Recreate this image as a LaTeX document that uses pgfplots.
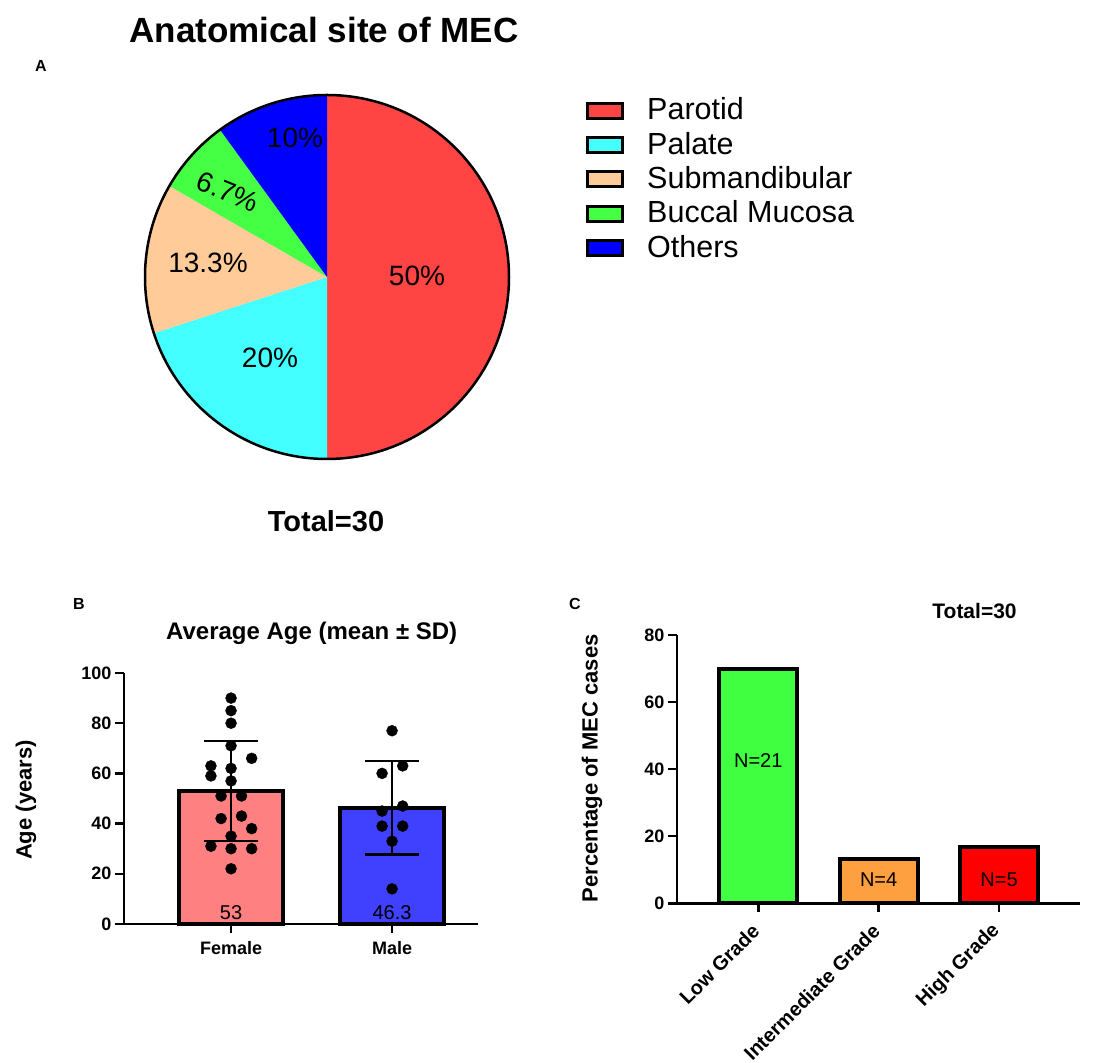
\documentclass[border=0pt]{standalone}
\usepackage{pgfplots}
\pgfplotsset{compat=1.18}
\usepackage{fontspec}
\setmainfont{Liberation Sans}
\definecolor{cParotid}{RGB}{255,68,68}
\definecolor{cPalate}{RGB}{68,255,255}
\definecolor{cSub}{RGB}{255,204,153}
\definecolor{cBuccal}{RGB}{68,255,68}
\definecolor{cOthers}{RGB}{0,0,255}
\definecolor{cFemale}{RGB}{255,128,128}
\definecolor{cMale}{RGB}{64,64,255}
\definecolor{cLow}{RGB}{64,255,64}
\definecolor{cInt}{RGB}{255,160,64}
\definecolor{cHigh}{RGB}{255,0,0}
\newcommand\fs[1]{\fontsize{#1}{#1}\selectfont}
\pgfplotstableread{
x y
0 90
0 85
0 80
0 71
0.128 66
-0.125 63
0 62
-0.125 59
0 57
-0.062 51
0.065 51
0.065 43
-0.062 42
0.128 38
0 35
-0.125 31
0 30
0.128 30
0 22
}\female
\pgfplotstableread{
x y
1 77
1.066 63
0.938 60
1.066 47
0.938 45
0.938 39
1.066 39
1 33
1 14
}\male
\begin{document}
\begin{tikzpicture}[x=1pt,y=1pt]
\useasboundingbox (0,0) rectangle (1096,1063);
% ---------- Panel A: pie ----------
\begin{axis}[hide axis, x=1pt, y=1pt, xmin=-200, xmax=200, ymin=-200, ymax=200,
  anchor=center, at={(327pt,786pt)}, clip=false]
% counts: Parotid 15, Palate 6, Submandibular 4, Buccal 2, Others 3 (of 30); 12 deg per case
\fill[cParotid] (axis cs:0,0) -- ++(90:182pt) arc[start angle=90, end angle={90-15*12}, radius=182pt] -- cycle;
\fill[cPalate] (axis cs:0,0) -- ++({90-15*12}:182pt) arc[start angle={90-15*12}, end angle={90-21*12}, radius=182pt] -- cycle;
\fill[cSub] (axis cs:0,0) -- ++({90-21*12}:182pt) arc[start angle={90-21*12}, end angle={90-25*12}, radius=182pt] -- cycle;
\fill[cBuccal] (axis cs:0,0) -- ++({90-25*12}:182pt) arc[start angle={90-25*12}, end angle={90-27*12}, radius=182pt] -- cycle;
\fill[cOthers] (axis cs:0,0) -- ++({90-27*12}:182pt) arc[start angle={90-27*12}, end angle={90-30*12}, radius=182pt] -- cycle;
\draw[line width=2.5pt] (axis cs:0,0) circle[radius=182pt];
\node[font=\fs{28}] at (axis cs:90,1) {50\%};
\node[font=\fs{28}] at (axis cs:-57,-81) {20\%};
\node[font=\fs{28}] at (axis cs:-119,14) {13.3\%};
\node[font=\fs{28}, rotate=-22] at (axis cs:-99,85) {6.7\%};
\node[font=\fs{28}] at (axis cs:-32,139) {10\%};
\end{axis}
\node[font=\fs{35}\bfseries, anchor=base] at (324,1020) {Anatomical site of MEC};
\node[font=\fs{16}\bfseries, anchor=base] at (41,991) {A};
\node[font=\fs{29}\bfseries, anchor=base] at (326,531.5) {Total=30};
% legend
\foreach \c/\t [count=\i from 0] in {cParotid/Parotid, cPalate/Palate, cSub/Submandibular, cBuccal/Buccal Mucosa, cOthers/Others}{
  \filldraw[fill=\c, draw=black, line width=3pt] (587,{952.3-34.3*\i-7.5}) rectangle (622,{952.3-34.3*\i+7.5});
  \node[font=\fs{30.5}, anchor=base west, inner sep=0pt] at (647,{943-34.3*\i}) {\t};
}
% ---------- Panel B ----------
\begin{axis}[at={(124pt,139pt)}, anchor=south west, x=161pt, y=2.51pt,
  xmin=-0.665, xmax=1.534, ymin=0, ymax=100, enlargelimits=false, clip=false,
  axis lines=left, axis line style={line width=2.5pt, -},
  xtick={0,1}, xticklabels={Female,Male}, ytick={0,20,...,100},
  tick align=outside, major tick length=9pt, tick style={line width=2.5pt, black},
  ticklabel style={font=\fs{18}\bfseries}, /pgf/number format/assume math mode=true,
  xticklabel shift=5pt]
\addplot[ybar, bar width=104pt, bar shift=0pt, fill=cFemale, draw=black, line width=3.5pt] coordinates {(0,53)};
\addplot[ybar, bar width=104pt, bar shift=0pt, fill=cMale, draw=black, line width=3.5pt] coordinates {(1,46.3)};
% error bars: mean +- SD (Female 53 +- 20, Male 46.3 +- 18.6)
\addplot[black, line width=2.5pt] coordinates {(0,33) (0,73)};
\addplot[black, line width=2.5pt] coordinates {(-0.168,73) (0.168,73)};
\addplot[black, line width=2.5pt] coordinates {(-0.168,33) (0.168,33)};
\addplot[black, line width=2.5pt] coordinates {(1,27.7) (1,64.9)};
\addplot[black, line width=2.5pt] coordinates {(0.832,64.9) (1.168,64.9)};
\addplot[black, line width=2.5pt] coordinates {(0.832,27.7) (1.168,27.7)};
\addplot[only marks, mark=*, mark size=5.5pt, black] table {\female};
\addplot[only marks, mark=*, mark size=5.5pt, black] table {\male};
\node[font=\fs{20}] at (axis cs:0,4.4) {53};
\node[font=\fs{20}] at (axis cs:1,4.4) {46.3};
\end{axis}
\node[font=\fs{16}\bfseries, anchor=base] at (79,453) {B};
\node[font=\fs{24}\bfseries, anchor=base] at (311.7,423.7) {Average Age (mean ± SD)};
\node[font=\fs{22}\bfseries, rotate=90] at (26,263) {Age (years)};
% ---------- Panel C ----------
\begin{axis}[at={(677pt,159.7pt)}, anchor=south west, x=120.4pt, y=3.354pt,
  xmin=-0.675, xmax=2.672, ymin=0, ymax=80, enlargelimits=false, clip=false,
  axis lines=left, axis line style={line width=2.5pt, -},
  xtick={0,1,2}, xticklabels={Low Grade, Intermediate Grade, High Grade}, ytick={0,20,...,80},
  tick align=outside, major tick length=9pt, tick style={line width=2.5pt, black},
  ticklabel style={font=\fs{18}\bfseries}, /pgf/number format/assume math mode=true,
  xticklabel style={font=\fs{20}\bfseries, rotate=45, anchor=east}, xticklabel shift=13pt]
\addplot[ybar, bar width=78pt, bar shift=0pt, fill=cLow, draw=black, line width=4pt] coordinates {(0,70)};
\addplot[ybar, bar width=78pt, bar shift=0pt, fill=cInt, draw=black, line width=4pt] coordinates {(1,13.33)};
\addplot[ybar, bar width=78pt, bar shift=0pt, fill=cHigh, draw=black, line width=4pt] coordinates {(2,16.67)};
\node[font=\fs{20}] at (axis cs:0,42.5) {N=21};
\node[font=\fs{20}] at (axis cs:1,6.95) {N=4};
\node[font=\fs{20}] at (axis cs:2,6.95) {N=5};
\end{axis}
\node[font=\fs{16}\bfseries, anchor=base] at (575,453) {C};
\node[font=\fs{21}\bfseries, anchor=base] at (974.5,444.7) {Total=30};
\node[font=\fs{22}\bfseries, rotate=90] at (592,294.7) {Percentage of MEC cases};
\end{tikzpicture}
\end{document}
